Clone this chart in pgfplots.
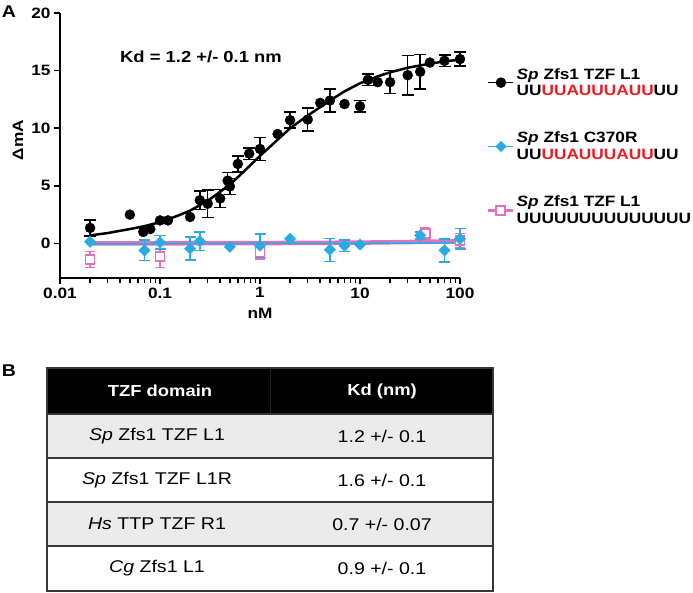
\documentclass[border=0pt]{standalone}
\usepackage{pgfplots}
\pgfplotsset{compat=1.18}
\usepackage{fontspec}
\setmainfont{Liberation Sans}[FakeStretch=1.15]
\definecolor{cyanS}{RGB}{41,171,226}
\definecolor{pinkS}{RGB}{226,112,190}
\definecolor{redS}{RGB}{232,30,40}
\definecolor{rowgray}{RGB}{235,235,235}
\definecolor{linegray}{RGB}{55,55,55}
\begin{document}
\begin{tikzpicture}
\path[use as bounding box] (0,0) rectangle (693pt,-592pt);
\begin{axis}[
  at={(60pt,-278pt)}, anchor=south west,
  scale only axis, width=400pt, height=265pt,
  xmode=log, xmin=0.01, xmax=100, ymin=-3, ymax=20,
  axis lines=left, axis line style={-, line width=1.5pt},
  xtick={0.01,0.1,1,10,100}, xticklabels={0.01,0.1,1,10,100},
  minor xtick={0.02,0.03,0.04,0.05,0.06,0.07,0.08,0.09,0.2,0.3,0.4,0.5,0.6,0.7,0.8,0.9,2,3,4,5,6,7,8,9,20,30,40,50,60,70,80,90},
  ytick={0,5,10,15,20},
  tick align=outside, major tick length=6pt, minor tick length=5pt,
  every tick/.style={black, line width=1.5pt},
  tick label style={font=\fontsize{15}{15}\selectfont\bfseries},
  /pgf/number format/assume math mode=true,
  xlabel={nM}, ylabel={ΔmA},
  label style={font=\fontsize{15}{15}\selectfont\bfseries},
  xlabel style={at={(axis description cs:0.5,-0.132)}, anchor=center},
  ylabel style={at={(axis description cs:-0.105,0.52)}, anchor=center},
  clip=false,
  legend style={draw=none, fill=none, at={(axis description cs:1.0675,0.80)}, anchor=north west,
    font=\fontsize{15}{16.5}\selectfont\bfseries, cells={anchor=west, align=left},
    row sep=31pt, inner sep=0pt},
  legend image code/.code={\draw[mark repeat=2,mark phase=2] plot coordinates {(0pt,0pt) (12.5pt,0pt) (25pt,0pt)};},
]
% fitted lines
\addplot[pinkS, line width=4.5pt, forget plot] coordinates {(0.02,0.0) (1,0.03) (10,0.07) (100,0.18)};
\addplot[cyanS, line width=1.5pt, forget plot] coordinates {(0.02,-0.05) (1,0.0) (10,0.02) (100,0.05)};
% pink squares
\addplot[pinkS, only marks, mark=square*, mark size=4.5pt, mark options={fill=white, line width=1.8pt}, forget plot,
  error bars/.cd, y dir=both, y explicit, error bar style={line width=1.5pt, pinkS}, error mark options={rotate=90, line width=1.5pt, mark size=5pt, pinkS}]
  table[x=x, y=y, y error=e] {
x y e
0.02 -1.4 0.7
0.1 -1.1 1.0
1 -0.75 0.6
45 0.85 0.5
100 0.25 0.6
};
% cyan diamonds
\addplot[cyanS, only marks, mark=square*, mark size=4pt, mark options={rotate=45}, forget plot,
  error bars/.cd, y dir=both, y explicit, error bar style={line width=1.5pt, cyanS}, error mark options={rotate=90, line width=1.5pt, mark size=5.5pt, cyanS}]
  table[x=x, y=y, y error=e] {
x y e
0.07 -0.6 0.9
0.1 0.1 0.6
0.2 -0.45 1.0
0.25 0.2 0.8
1 -0.2 1.0
5 -0.55 1.0
7 -0.2 0.5
40 0.7 0.3
70 -0.6 1.0
100 0.4 0.9
};
\addplot[cyanS, only marks, mark=square*, mark size=4pt, mark options={rotate=45}, forget plot] table[x=x, y=y] {
x y
0.02 0.15
0.5 -0.3
2 0.4
10 -0.1
};
% black fit
\addplot[black, line width=2.5pt, forget plot] coordinates {
(0.02,0.7) (0.03,0.9) (0.05,1.25) (0.07,1.5) (0.1,1.85) (0.15,2.4) (0.2,2.85) (0.3,3.7)
(0.5,5.1) (0.7,6.3) (1,7.6) (1.5,9.0) (2,10.0) (3,11.1) (5,12.4) (7,13.2) (10,13.9)
(15,14.5) (20,14.85) (30,15.25) (50,15.6) (70,15.8) (100,15.95)};
% black points
\addplot[black, only marks, mark=*, mark size=5pt, forget plot,
  error bars/.cd, y dir=both, y explicit, error bar style={line width=1.5pt, black}, error mark options={rotate=90, line width=1.5pt, mark size=6pt, black}]
  table[x=x, y=y, y error=e] {
x y e
0.02 1.35 0.7
0.25 3.75 0.8
0.3 3.45 1.2
0.4 3.9 0.8
0.475 5.45 0.7
0.5 4.95 0.7
0.6 6.9 0.7
0.78 7.8 0.5
1 8.2 1.0
2 10.7 0.7
3 10.75 1.0
5 12.4 1.0
10 11.9 0.5
12 14.2 0.5
20 14.0 1.0
30 14.6 1.7
40 14.9 1.5
70 15.85 0.5
100 16.0 0.6
};
\addplot[black, only marks, mark=*, mark size=5pt, forget plot] table[x=x, y=y] {
x y
0.05 2.5
0.068 1.0
0.08 1.25
0.1 2.0
0.12 2.0
0.2 2.3
1.5 9.5
4 12.2
7 12.1
15 14.0
50 15.7
};
\addlegendimage{black, line width=1.5pt, mark=*, mark size=4.5pt}
\addlegendentry{\textit{Sp} Zfs1 TZF L1\\UU\textcolor{redS}{UUAUUUAUU}UU}
\addlegendimage{cyanS, line width=1.5pt, mark=square*, mark size=3.2pt, mark options={rotate=45}}
\addlegendentry{\textit{Sp} Zfs1 C370R\\UU\textcolor{redS}{UUAUUUAUU}UU}
\addlegendimage{pinkS, line width=2.5pt, mark=square*, mark size=4.5pt, mark options={fill=white, line width=2pt}}
\addlegendentry{\textit{Sp} Zfs1 TZF L1\\UUUUUUUUUUUUUU}
\end{axis}
% panel labels and annotation
\node[font=\fontsize{17}{17}\selectfont\bfseries] at (9pt,-12pt) {A};
\node[font=\fontsize{17}{17}\selectfont\bfseries] at (9pt,-371pt) {B};
\node[font=\fontsize{16}{16}\selectfont\bfseries] at (201pt,-56.5pt) {Kd = 1.2 +/- 0.1 nm};
% table
\fill[black] (47pt,-368pt) rectangle (493pt,-414pt);
\fill[rowgray] (47pt,-414pt) rectangle (493pt,-458pt);
\fill[rowgray] (47pt,-502pt) rectangle (493pt,-546pt);
\draw[linegray, line width=2pt] (47pt,-414pt) -- (493pt,-414pt);
\draw[linegray, line width=2pt] (47pt,-458pt) -- (493pt,-458pt);
\draw[linegray, line width=2pt] (47pt,-502pt) -- (493pt,-502pt);
\draw[linegray, line width=2pt] (47pt,-546pt) -- (493pt,-546pt);
\draw[linegray, line width=2pt] (47pt,-368pt) rectangle (493pt,-591pt);
\draw[black!85!white, line width=0.6pt] (270pt,-368pt) -- (270pt,-414pt);
\begin{scope}[every node/.style={font=\fontsize{17}{17}\selectfont, anchor=center}]
\node[text=white, font=\fontsize{16}{16}\selectfont\bfseries] at (160pt,-391pt) {TZF domain};
\node[text=white, font=\fontsize{16}{16}\selectfont\bfseries] at (382pt,-391pt) {Kd (nm)};
\node at (157pt,-436pt) {\textit{Sp} Zfs1 TZF L1};
\node at (382pt,-436pt) {1.2 +/- 0.1};
\node at (157pt,-480pt) {\textit{Sp} Zfs1 TZF L1R};
\node at (382pt,-480pt) {1.6 +/- 0.1};
\node at (157pt,-524pt) {\textit{Hs} TTP TZF R1};
\node at (382pt,-524pt) {0.7 +/- 0.07};
\node at (157pt,-568pt) {\textit{Cg} Zfs1 L1};
\node at (382pt,-568pt) {0.9 +/- 0.1};
\end{scope}
\end{tikzpicture}
\end{document}
